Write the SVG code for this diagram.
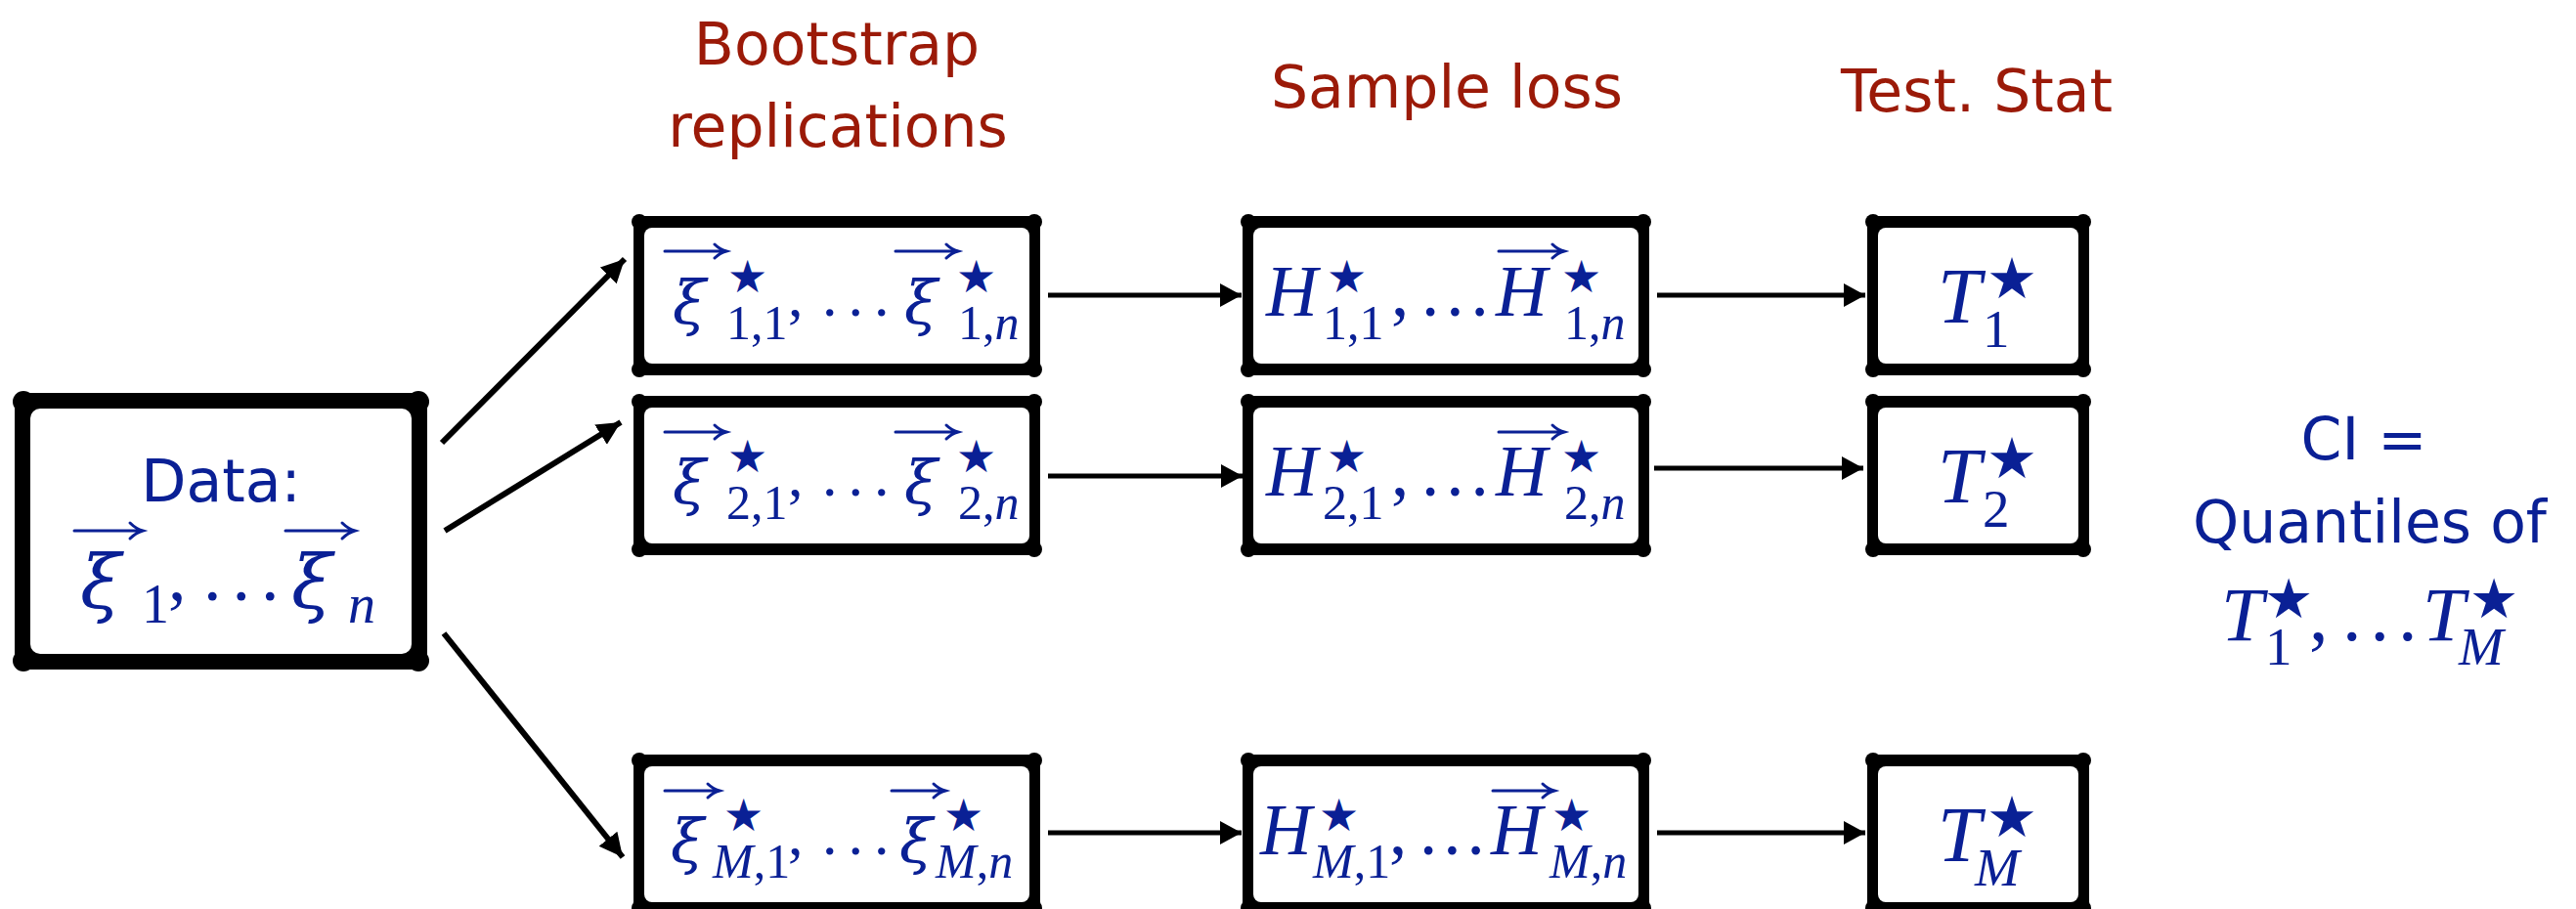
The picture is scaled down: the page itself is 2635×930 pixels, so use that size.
<svg xmlns="http://www.w3.org/2000/svg" width="2635" height="930" viewBox="0 0 2635 930">
<defs>
<style>
.hdr{font-family:"DejaVu Sans",sans-serif;font-size:60px;fill:#9b1a08;text-anchor:middle}
.lbl{font-family:"DejaVu Sans",sans-serif;font-size:60px;fill:#0a2095;text-anchor:middle}
.m{font-family:"Liberation Serif","Times New Roman",serif;fill:#0a2095}
.it{font-style:italic}
.xi{font-family:"DejaVu Serif",serif;font-style:italic}
.st{font-family:"DejaVu Sans",sans-serif;fill:#0a2095}
.bo{fill:#000}
.bi{fill:#fff}
.va{fill:none;stroke:#0a2095;stroke-width:3;stroke-linecap:round}
.cn{stroke:#000;fill:none}
</style>
<marker id="ah" markerWidth="28" markerHeight="28" refX="24" refY="12" orient="auto" markerUnits="userSpaceOnUse"><path d="M0,0 L24,12 L0,24 z" fill="#000"/></marker>
<marker id="ahs" markerWidth="26" markerHeight="26" refX="22" refY="12" orient="auto" markerUnits="userSpaceOnUse"><path d="M0,0 L22,12 L0,24 z" fill="#000"/></marker>
<g id="cbox">
<rect class="bo" x="0" y="0" width="416" height="163" rx="5"/>
<circle class="bo" cx="6" cy="6" r="8"/><circle class="bo" cx="410" cy="6" r="8"/><circle class="bo" cx="6" cy="157" r="8"/><circle class="bo" cx="410" cy="157" r="8"/>
<rect class="bi" x="11" y="12" width="394" height="139" rx="8"/>
</g>
<g id="tbox">
<rect class="bo" x="0" y="0" width="227" height="163" rx="5"/>
<circle class="bo" cx="6" cy="6" r="8"/><circle class="bo" cx="221" cy="6" r="8"/><circle class="bo" cx="6" cy="157" r="8"/><circle class="bo" cx="221" cy="157" r="8"/>
<rect class="bi" x="11" y="12" width="205" height="139" rx="8"/>
</g>
</defs>
<rect width="2635" height="930" fill="#fff"/>

<g id="headers">
<text class="hdr" x="856" y="66">Bootstrap</text>
<text class="hdr" x="857" y="150">replications</text>
<text class="hdr" x="1480" y="110">Sample loss</text>
<text class="hdr" x="2022" y="114">Test. Stat</text>
</g>

<g id="connectors">
<line class="cn" stroke-width="6" x1="452" y1="453" x2="639" y2="265" marker-end="url(#ah)"/>
<line class="cn" stroke-width="6" x1="455" y1="543" x2="635" y2="432" marker-end="url(#ah)"/>
<line class="cn" stroke-width="6" x1="454" y1="648" x2="637" y2="877" marker-end="url(#ah)"/>
<line class="cn" stroke-width="5" x1="1072" y1="302" x2="1270" y2="302" marker-end="url(#ahs)"/>
<line class="cn" stroke-width="5" x1="1695" y1="302" x2="1908" y2="302" marker-end="url(#ahs)"/>
<line class="cn" stroke-width="5" x1="1072" y1="487" x2="1271" y2="487" marker-end="url(#ahs)"/>
<line class="cn" stroke-width="5" x1="1692" y1="479" x2="1906" y2="479" marker-end="url(#ahs)"/>
<line class="cn" stroke-width="5" x1="1072" y1="852" x2="1270" y2="852" marker-end="url(#ahs)"/>
<line class="cn" stroke-width="5" x1="1695" y1="852" x2="1908" y2="852" marker-end="url(#ahs)"/>
</g>

<g id="data">
<rect class="bo" x="15" y="402" width="422" height="283" rx="8"/>
<circle class="bo" cx="24" cy="411" r="11"/><circle class="bo" cx="428" cy="411" r="11"/><circle class="bo" cx="24" cy="676" r="11"/><circle class="bo" cx="428" cy="676" r="11"/>
<rect class="bi" x="31" y="418" width="390" height="251" rx="10"/>
<text class="lbl" x="226" y="513">Data:</text>
<path class="va" d="M76,543 H144 M133,535 Q139,541 146,543 Q139,545 133,551"/>
<path class="va" d="M292,543 H361 M350,535 Q356,541 363,543 Q356,545 350,551"/>
<text class="m" y="614"><tspan class="xi" x="82" y="622" font-size="76">ξ</tspan><tspan x="145" y="637" font-size="56">1</tspan><tspan x="172" y="614" font-size="74">,</tspan><tspan x="208" font-size="74" letter-spacing="11">...</tspan><tspan class="xi" x="298" y="622" font-size="76">ξ</tspan><tspan class="it" x="356" y="637" font-size="56">n</tspan></text>
</g>

<g id="boot1" transform="translate(648,221)">
<use href="#cbox"/>
<path class="va" d="M32,36 H93 M83,29 Q88,34 95,36 Q88,38 83,43"/>
<path class="va" d="M268,36 H330 M320,29 Q325,34 332,36 Q325,38 320,43"/>
<text class="m" y="102" font-size="62"><tspan class="xi" x="40" y="110">ξ</tspan><tspan x="95" y="126" font-size="50">1,1</tspan><tspan x="158" y="102">,</tspan><tspan x="193" letter-spacing="11">...</tspan><tspan class="xi" x="277" y="110">ξ</tspan><tspan x="332" y="126" font-size="50">1,<tspan class="it">n</tspan></tspan></text>
<text class="st" font-size="46"><tspan x="96" y="78">★</tspan><tspan x="330" y="78">★</tspan></text>
</g>
<g id="boot2" transform="translate(648,405)">
<use href="#cbox"/>
<path class="va" d="M32,37 H93 M83,30 Q88,35 95,37 Q88,39 83,44"/>
<path class="va" d="M268,37 H330 M320,30 Q325,35 332,37 Q325,39 320,44"/>
<text class="m" y="102" font-size="62"><tspan class="xi" x="40" y="110">ξ</tspan><tspan x="95" y="126" font-size="50">2,1</tspan><tspan x="158" y="102">,</tspan><tspan x="193" letter-spacing="11">...</tspan><tspan class="xi" x="277" y="110">ξ</tspan><tspan x="332" y="126" font-size="50">2,<tspan class="it">n</tspan></tspan></text>
<text class="st" font-size="46"><tspan x="96" y="78">★</tspan><tspan x="330" y="78">★</tspan></text>
</g>
<g id="bootM" transform="translate(648,772)">
<use href="#cbox"/>
<path class="va" d="M32,37 H86 M76,30 Q81,35 88,37 Q81,39 76,44"/>
<path class="va" d="M264,37 H317 M307,30 Q312,35 319,37 Q312,39 307,44"/>
<text class="m" y="102" font-size="62"><tspan class="xi" x="38" y="110">ξ</tspan><tspan x="81" y="126" font-size="50"><tspan class="it">M</tspan>,1</tspan><tspan x="158" y="102">,</tspan><tspan x="193" letter-spacing="11">...</tspan><tspan class="xi" x="272" y="110">ξ</tspan><tspan x="309" y="126" font-size="50"><tspan class="it">M</tspan>,<tspan class="it">n</tspan></tspan></text>
<text class="st" font-size="46"><tspan x="92" y="78">★</tspan><tspan x="317" y="78">★</tspan></text>
</g>

<g id="loss1" transform="translate(1271,221)">
<use href="#cbox"/>
<path class="va" d="M262,36 H327 M317,29 Q322,34 329,36 Q322,38 317,43"/>
<text class="m" y="102" font-size="73"><tspan class="it" x="24">H</tspan><tspan x="82" y="126" font-size="50">1,1</tspan><tspan x="152" y="102">,</tspan><tspan x="183" letter-spacing="7">...</tspan><tspan class="it" x="259">H</tspan><tspan x="329" y="126" font-size="50">1,<tspan class="it">n</tspan></tspan></text>
<text class="st" font-size="46"><tspan x="86" y="78">★</tspan><tspan x="326" y="78">★</tspan></text>
</g>
<g id="loss2" transform="translate(1271,405)">
<use href="#cbox"/>
<path class="va" d="M262,37 H327 M317,30 Q322,35 329,37 Q322,39 317,44"/>
<text class="m" y="102" font-size="73"><tspan class="it" x="24">H</tspan><tspan x="82" y="126" font-size="50">2,1</tspan><tspan x="152" y="102">,</tspan><tspan x="183" letter-spacing="7">...</tspan><tspan class="it" x="259">H</tspan><tspan x="329" y="126" font-size="50">2,<tspan class="it">n</tspan></tspan></text>
<text class="st" font-size="46"><tspan x="86" y="78">★</tspan><tspan x="326" y="78">★</tspan></text>
</g>
<g id="lossM" transform="translate(1271,772)">
<use href="#cbox"/>
<path class="va" d="M256,37 H317 M307,30 Q312,35 319,37 Q312,39 307,44"/>
<text class="m" y="102" font-size="73"><tspan class="it" x="18">H</tspan><tspan x="72" y="126" font-size="50"><tspan class="it">M</tspan>,1</tspan><tspan x="150" y="102">,</tspan><tspan x="181" letter-spacing="6">...</tspan><tspan class="it" x="254">H</tspan><tspan x="314" y="126" font-size="50"><tspan class="it">M</tspan>,<tspan class="it">n</tspan></tspan></text>
<text class="st" font-size="46"><tspan x="78" y="78">★</tspan><tspan x="316" y="78">★</tspan></text>
</g>

<g id="stat1" transform="translate(1910,221)">
<use href="#tbox"/>
<text class="m" y="109" font-size="80"><tspan class="it" x="72">T</tspan><tspan x="118" y="134" font-size="55">1</tspan></text>
<text class="st" font-size="58" x="122" y="84">★</text>
</g>
<g id="stat2" transform="translate(1910,405)">
<use href="#tbox"/>
<text class="m" y="109" font-size="80"><tspan class="it" x="72">T</tspan><tspan x="118" y="134" font-size="55">2</tspan></text>
<text class="st" font-size="58" x="122" y="84">★</text>
</g>
<g id="statM" transform="translate(1910,772)">
<use href="#tbox"/>
<text class="m" y="109" font-size="80"><tspan class="it" x="72">T</tspan><tspan class="it" x="110" y="134" font-size="55">M</tspan></text>
<text class="st" font-size="58" x="122" y="84">★</text>
</g>

<g id="ci">
<text class="lbl" x="2418" y="470">CI =</text>
<text class="lbl" x="2424" y="555">Quantiles of</text>
<text class="m" y="655" font-size="78"><tspan class="it" x="2272">T</tspan><tspan x="2317" y="680" font-size="55">1</tspan><tspan x="2362" y="655">,</tspan><tspan x="2396" letter-spacing="9">...</tspan><tspan class="it" x="2478">T</tspan><tspan class="it" x="2515" y="680" font-size="55">M</tspan></text>
<text class="st" font-size="56"><tspan x="2316" y="632">★</tspan><tspan x="2526" y="632">★</tspan></text>
</g>
</svg>
